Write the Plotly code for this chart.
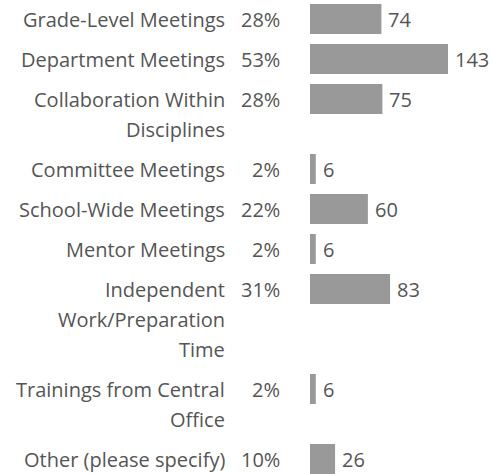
import plotly.graph_objects as go

# ---- data ----
categories = [
    "Grade-Level Meetings",
    "Department Meetings",
    "Collaboration Within\nDisciplines",
    "Committee Meetings",
    "School-Wide Meetings",
    "Mentor Meetings",
    "Independent\nWork/Preparation\nTime",
    "Trainings from Central\nOffice",
    "Other (please specify)",
]
percents = ["28%", "53%", "28%", "2%", "22%", "2%", "31%", "2%", "10%"]
counts = [74, 143, 75, 6, 60, 6, 83, 6, 26]

# ---- layout constants (pixels) ----
W, H = 493, 474
LINE = 30
GAP = 10
TOP = 4
BAR_LEFT = 310
LABEL_RIGHT = 227
PCT_RIGHT = 282
PX_PER_UNIT = 0.965

FONT = "Open Sans"
TEXT_COLOR = "#555555"
BAR_COLOR = "#999999"
FS = 20

# row centers derived from the number of label lines
centers = []
y = TOP
for c in categories:
    n = len(c.split("\n"))
    centers.append(y + LINE / 2)
    y += n * LINE + GAP

fig = go.Figure()
fig.add_trace(go.Bar(
    x=counts, y=centers, orientation="h", width=LINE,
    marker=dict(color=BAR_COLOR, line=dict(width=0)),
    hoverinfo="skip",
))

ann = []
for c, p, v, yc in zip(categories, percents, counts, centers):
    for i, line in enumerate(c.split("\n")):
        ann.append(dict(x=LABEL_RIGHT / W, xref="paper", y=yc + i * LINE, yref="y",
                        text=line, showarrow=False, xanchor="right", yanchor="middle",
                        font=dict(family=FONT, size=FS, color=TEXT_COLOR)))
    ann.append(dict(x=PCT_RIGHT / W, xref="paper", y=yc, yref="y", text=p,
                    showarrow=False, xanchor="right", yanchor="middle",
                    font=dict(family=FONT, size=FS, color=TEXT_COLOR)))
    ann.append(dict(x=v, xref="x", y=yc, yref="y", text=str(v), xshift=5,
                    showarrow=False, xanchor="left", yanchor="middle",
                    font=dict(family=FONT, size=FS, color=TEXT_COLOR)))

fig.update_layout(
    width=W, height=H,
    margin=dict(l=0, r=0, t=0, b=0),
    paper_bgcolor="white", plot_bgcolor="white",
    showlegend=False,
    xaxis=dict(domain=[BAR_LEFT / W, 1], range=[0, (W - BAR_LEFT) / PX_PER_UNIT],
               visible=False, fixedrange=True),
    yaxis=dict(range=[H, 0], visible=False, fixedrange=True),
    annotations=ann,
)

fig.write_html("out.html", config={"displayModeBar": False},
               post_script="document.body.style.margin='0';")
